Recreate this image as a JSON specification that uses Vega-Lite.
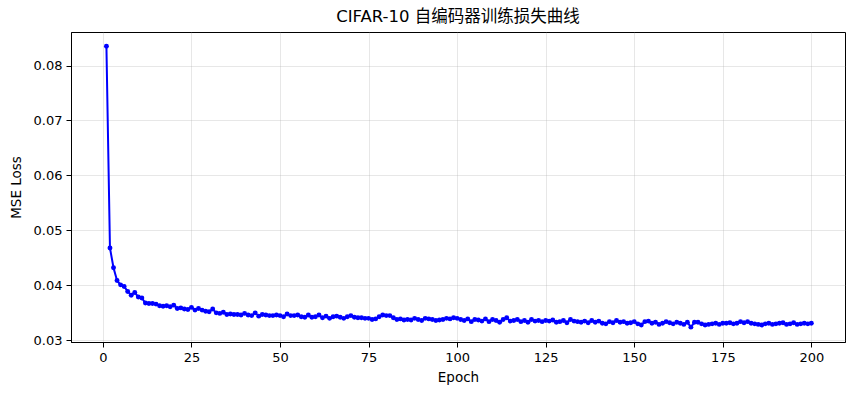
{
  "$schema": "https://vega.github.io/schema/vega-lite/v6.json",
  "width": 774,
  "height": 310,
  "autosize": {"type": "none"},
  "padding": {"left": 71, "top": 32, "right": 10, "bottom": 51},
  "background": "white",
  "title": {"text": "CIFAR-10 自编码器训练损失曲线", "fontSize": 16.5, "fontWeight": "normal", "font": "DejaVu Sans, Noto Sans CJK SC", "color": "black", "anchor": "middle", "offset": 7},
  "config": {
    "view": {"stroke": "black", "strokeWidth": 1},
    "axis": {
      "labelFont": "DejaVu Sans", "labelFontSize": 13, "labelColor": "black",
      "titleFont": "DejaVu Sans", "titleFontSize": 13.5, "titleFontWeight": "normal", "titleColor": "black",
      "domainColor": "black", "tickColor": "black", "tickSize": 5, "labelPadding": 4,
      "gridColor": "#b0b0b0", "gridOpacity": 0.3, "gridWidth": 1
    }
  },
  "data": {"values": [
    {"epoch":1,"loss":0.0835},{"epoch":2,"loss":0.0468},{"epoch":3,"loss":0.0432},{"epoch":4,"loss":0.0409},{"epoch":5,"loss":0.0401},
    {"epoch":6,"loss":0.0398},{"epoch":7,"loss":0.0389},{"epoch":8,"loss":0.0382},{"epoch":9,"loss":0.0387},{"epoch":10,"loss":0.0379},
    {"epoch":11,"loss":0.0377},{"epoch":12,"loss":0.0368},{"epoch":13,"loss":0.0367},{"epoch":14,"loss":0.0367},{"epoch":15,"loss":0.0366},
    {"epoch":16,"loss":0.0363},{"epoch":17,"loss":0.0362},{"epoch":18,"loss":0.0363},{"epoch":19,"loss":0.0361},{"epoch":20,"loss":0.0364},
    {"epoch":21,"loss":0.0358},{"epoch":22,"loss":0.0359},{"epoch":23,"loss":0.0357},{"epoch":24,"loss":0.0356},{"epoch":25,"loss":0.0360},
    {"epoch":26,"loss":0.0355},{"epoch":27,"loss":0.0358},{"epoch":28,"loss":0.0355},{"epoch":29,"loss":0.0353},{"epoch":30,"loss":0.0352},
    {"epoch":31,"loss":0.0357},{"epoch":32,"loss":0.0350},{"epoch":33,"loss":0.0349},{"epoch":34,"loss":0.0351},{"epoch":35,"loss":0.0347},
    {"epoch":36,"loss":0.0348},{"epoch":37,"loss":0.0347},{"epoch":38,"loss":0.0347},{"epoch":39,"loss":0.0346},{"epoch":40,"loss":0.0349},
    {"epoch":41,"loss":0.0346},{"epoch":42,"loss":0.0345},{"epoch":43,"loss":0.0350},{"epoch":44,"loss":0.0344},{"epoch":45,"loss":0.0347},
    {"epoch":46,"loss":0.0346},{"epoch":47,"loss":0.0345},{"epoch":48,"loss":0.0345},{"epoch":49,"loss":0.0346},{"epoch":50,"loss":0.0345},
    {"epoch":51,"loss":0.0343},{"epoch":52,"loss":0.0348},{"epoch":53,"loss":0.0345},{"epoch":54,"loss":0.0345},{"epoch":55,"loss":0.0346},
    {"epoch":56,"loss":0.0343},{"epoch":57,"loss":0.0342},{"epoch":58,"loss":0.0346},{"epoch":59,"loss":0.0342},{"epoch":60,"loss":0.0343},
    {"epoch":61,"loss":0.0346},{"epoch":62,"loss":0.0341},{"epoch":63,"loss":0.0344},{"epoch":64,"loss":0.0340},{"epoch":65,"loss":0.0343},
    {"epoch":66,"loss":0.0344},{"epoch":67,"loss":0.0342},{"epoch":68,"loss":0.0340},{"epoch":69,"loss":0.0343},{"epoch":70,"loss":0.0345},
    {"epoch":71,"loss":0.0342},{"epoch":72,"loss":0.0341},{"epoch":73,"loss":0.0341},{"epoch":74,"loss":0.0340},{"epoch":75,"loss":0.0340},
    {"epoch":76,"loss":0.0338},{"epoch":77,"loss":0.0339},{"epoch":78,"loss":0.0343},{"epoch":79,"loss":0.0346},{"epoch":80,"loss":0.0345},
    {"epoch":81,"loss":0.0345},{"epoch":82,"loss":0.0341},{"epoch":83,"loss":0.0338},{"epoch":84,"loss":0.0339},{"epoch":85,"loss":0.0337},
    {"epoch":86,"loss":0.0338},{"epoch":87,"loss":0.0337},{"epoch":88,"loss":0.0340},{"epoch":89,"loss":0.0338},{"epoch":90,"loss":0.0336},
    {"epoch":91,"loss":0.0340},{"epoch":92,"loss":0.0339},{"epoch":93,"loss":0.0338},{"epoch":94,"loss":0.0336},{"epoch":95,"loss":0.0337},
    {"epoch":96,"loss":0.0338},{"epoch":97,"loss":0.0340},{"epoch":98,"loss":0.0339},{"epoch":99,"loss":0.0341},{"epoch":100,"loss":0.0340},
    {"epoch":101,"loss":0.0338},{"epoch":102,"loss":0.0336},{"epoch":103,"loss":0.0339},{"epoch":104,"loss":0.0334},{"epoch":105,"loss":0.0338},
    {"epoch":106,"loss":0.0337},{"epoch":107,"loss":0.0335},{"epoch":108,"loss":0.0339},{"epoch":109,"loss":0.0334},{"epoch":110,"loss":0.0338},
    {"epoch":111,"loss":0.0336},{"epoch":112,"loss":0.0333},{"epoch":113,"loss":0.0338},{"epoch":114,"loss":0.0341},{"epoch":115,"loss":0.0335},
    {"epoch":116,"loss":0.0336},{"epoch":117,"loss":0.0338},{"epoch":118,"loss":0.0334},{"epoch":119,"loss":0.0336},{"epoch":120,"loss":0.0333},
    {"epoch":121,"loss":0.0338},{"epoch":122,"loss":0.0335},{"epoch":123,"loss":0.0336},{"epoch":124,"loss":0.0334},{"epoch":125,"loss":0.0336},
    {"epoch":126,"loss":0.0335},{"epoch":127,"loss":0.0337},{"epoch":128,"loss":0.0333},{"epoch":129,"loss":0.0334},{"epoch":130,"loss":0.0336},
    {"epoch":131,"loss":0.0332},{"epoch":132,"loss":0.0338},{"epoch":133,"loss":0.0335},{"epoch":134,"loss":0.0334},{"epoch":135,"loss":0.0333},
    {"epoch":136,"loss":0.0335},{"epoch":137,"loss":0.0332},{"epoch":138,"loss":0.0336},{"epoch":139,"loss":0.0333},{"epoch":140,"loss":0.0335},
    {"epoch":141,"loss":0.0331},{"epoch":142,"loss":0.0330},{"epoch":143,"loss":0.0334},{"epoch":144,"loss":0.0332},{"epoch":145,"loss":0.0336},
    {"epoch":146,"loss":0.0333},{"epoch":147,"loss":0.0334},{"epoch":148,"loss":0.0331},{"epoch":149,"loss":0.0332},{"epoch":150,"loss":0.0334},
    {"epoch":151,"loss":0.0330},{"epoch":152,"loss":0.0328},{"epoch":153,"loss":0.0334},{"epoch":154,"loss":0.0335},{"epoch":155,"loss":0.0331},
    {"epoch":156,"loss":0.0333},{"epoch":157,"loss":0.0329},{"epoch":158,"loss":0.0331},{"epoch":159,"loss":0.0334},{"epoch":160,"loss":0.0332},
    {"epoch":161,"loss":0.0330},{"epoch":162,"loss":0.0333},{"epoch":163,"loss":0.0331},{"epoch":164,"loss":0.0329},{"epoch":165,"loss":0.0333},
    {"epoch":166,"loss":0.0324},{"epoch":167,"loss":0.0333},{"epoch":168,"loss":0.0333},{"epoch":169,"loss":0.0330},{"epoch":170,"loss":0.0328},
    {"epoch":171,"loss":0.0329},{"epoch":172,"loss":0.0330},{"epoch":173,"loss":0.0331},{"epoch":174,"loss":0.0329},{"epoch":175,"loss":0.0331},
    {"epoch":176,"loss":0.0331},{"epoch":177,"loss":0.0332},{"epoch":178,"loss":0.0330},{"epoch":179,"loss":0.0331},{"epoch":180,"loss":0.0334},
    {"epoch":181,"loss":0.0332},{"epoch":182,"loss":0.0334},{"epoch":183,"loss":0.0331},{"epoch":184,"loss":0.0330},{"epoch":185,"loss":0.0329},
    {"epoch":186,"loss":0.0328},{"epoch":187,"loss":0.0330},{"epoch":188,"loss":0.0331},{"epoch":189,"loss":0.0329},{"epoch":190,"loss":0.0330},
    {"epoch":191,"loss":0.0331},{"epoch":192,"loss":0.0332},{"epoch":193,"loss":0.0329},{"epoch":194,"loss":0.0330},{"epoch":195,"loss":0.0332},
    {"epoch":196,"loss":0.0329},{"epoch":197,"loss":0.0330},{"epoch":198,"loss":0.0331},{"epoch":199,"loss":0.0330},{"epoch":200,"loss":0.0331}
  ]},
  "encoding": {
    "x": {"field": "epoch", "type": "quantitative", "title": "Epoch",
          "scale": {"domain": [-9, 209.5], "nice": false, "zero": false},
          "axis": {"values": [0, 25, 50, 75, 100, 125, 150, 175, 200], "format": "d", "titlePadding": 6}},
    "y": {"field": "loss", "type": "quantitative", "title": "MSE Loss",
          "scale": {"domain": [0.0297, 0.0861], "nice": false, "zero": false},
          "axis": {"values": [0.03, 0.04, 0.05, 0.06, 0.07, 0.08], "format": ".2f", "titlePadding": 10}}
  },
  "layer": [
    {"mark": {"type": "line", "color": "#0000ff", "strokeWidth": 2}},
    {"mark": {"type": "point", "filled": true, "color": "#0000ff", "size": 24, "opacity": 1}}
  ]
}
